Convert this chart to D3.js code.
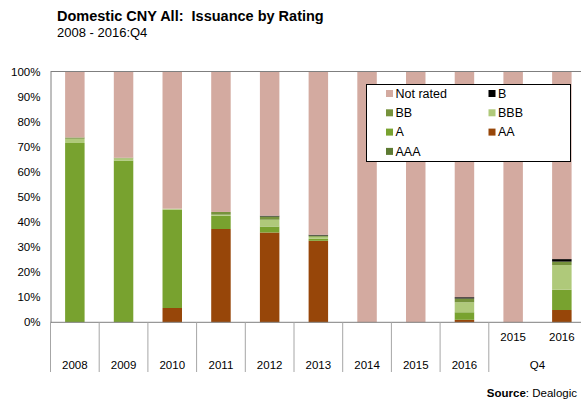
<!DOCTYPE html>
<html>
<head>
<meta charset="utf-8">
<script src="https://cdn.jsdelivr.net/npm/d3@7"></script>
<style>
  html, body { margin: 0; padding: 0; background: #fff; }
  svg { display: block; font-family: "Liberation Sans", Arial, sans-serif; }
</style>
</head>
<body>
<svg id="chart" width="581" height="403"></svg>
<script>
// Period categories: nine calendar years, then Q4 of 2015 and 2016
const categories = ["2008", "2009", "2010", "2011", "2012", "2013", "2014", "2015", "2016", "Q4 2015", "Q4 2016"];
const yearLabels = ["2008", "2009", "2010", "2011", "2012", "2013", "2014", "2015", "2016"];
const q4Labels = ["2015", "2016"];
const q4GroupLabel = "Q4";

// Share of issuance by rating (%), stacked from the bottom in this order
const ratingAAA = [0, 0, 0, 0, 0, 0, 0, 0, 0, 0, 0];
const ratingAA  = [0, 0, 5.7, 37.2, 35.8, 32.5, 0, 0, 1.0, 0, 4.9];
const ratingA   = [71.5, 64.5, 39.2, 5.3, 2.4, 0.8, 0, 0, 3.0, 0, 8.1];
const ratingBBB = [1.7, 0.9, 0.4, 0.4, 2.7, 0.8, 0, 0, 4.0, 0, 9.8];
const ratingBB  = [0.5, 0.2, 0, 1.1, 1.3, 0.5, 0, 0, 1.5, 0, 1.4];
const ratingB   = [0, 0, 0, 0, 0.3, 0.3, 0, 0, 0.5, 0, 1.0];
const notRated  = [26.3, 34.4, 54.7, 56.0, 57.5, 65.1, 100, 100, 90.0, 100, 74.8];

const yTicks = [0, 10, 20, 30, 40, 50, 60, 70, 80, 90, 100];

const series = [
  { name: "AAA", values: ratingAAA, color: "#5d7a32" },
  { name: "AA", values: ratingAA, color: "#974609" },
  { name: "A", values: ratingA, color: "#78a22f" },
  { name: "BBB", values: ratingBBB, color: "#afc97a" },
  { name: "BB", values: ratingBB, color: "#76923c" },
  { name: "B", values: ratingB, color: "#000000" },
  { name: "Not rated", values: notRated, color: "#d3aaa0" }
];

// Legend reads in two columns, top of stack first
const legendOrder = ["Not rated", "B", "BB", "BBB", "A", "AA", "AAA"];

const svg = d3.select("#chart");

const plotLeft = 50.5, plotRight = 586.2, plotTop = 71.5, plotBottom = 322.3;

const x = d3.scaleBand()
  .domain(categories)
  .range([plotLeft, plotRight])
  .paddingInner(0.6)
  .paddingOuter(0.3);

const y = d3.scaleLinear().domain([0, 100]).range([plotBottom, plotTop]);

// Title block
svg.append("text").attr("x", 57).attr("y", 21)
  .attr("font-size", 14.5).attr("font-weight", "bold").attr("fill", "#000")
  .attr("xml:space", "preserve")
  .text("Domestic CNY All:  Issuance by Rating");
svg.append("text").attr("x", 57).attr("y", 36.5)
  .attr("font-size", 13).attr("fill", "#000")
  .text("2008 - 2016:Q4");

// Stacked bars
const rows = categories.map((c, i) => {
  const r = { category: c };
  series.forEach(s => { r[s.name] = s.values[i]; });
  return r;
});
const stack = d3.stack().keys(series.map(s => s.name));
const layers = stack(rows);

svg.append("g").selectAll("g")
  .data(layers)
  .join("g")
  .attr("fill", d => series.find(s => s.name === d.key).color)
  .selectAll("rect")
  .data(d => d)
  .join("rect")
  .attr("x", d => x(d.data.category))
  .attr("width", x.bandwidth())
  .attr("y", d => y(d[1]))
  .attr("height", d => Math.max(0, y(d[0]) - y(d[1])));

// Y axis labels and frame lines
const yAxis = d3.axisLeft(y)
  .tickValues(yTicks)
  .tickFormat(d => d + "%")
  .tickSize(0)
  .tickPadding(10);
const yg = svg.append("g").attr("transform", `translate(${plotLeft},0)`).call(yAxis);
yg.select(".domain").attr("stroke", "#7f7f7f");
yg.selectAll("text").attr("font-size", 11.5).attr("fill", "#000")
  .attr("font-family", "Liberation Sans, Arial, sans-serif");

svg.append("line")
  .attr("x1", plotLeft).attr("x2", 581)
  .attr("y1", plotTop).attr("y2", plotTop)
  .attr("stroke", "#7f7f7f");
svg.append("line")
  .attr("x1", plotLeft).attr("x2", 581)
  .attr("y1", plotBottom).attr("y2", plotBottom)
  .attr("stroke", "#7f7f7f");

// Category separators under the axis
const step = x.step();
const sepX = d3.range(0, 10).map(i => plotLeft + i * step);
svg.append("g").selectAll("line")
  .data(sepX)
  .join("line")
  .attr("x1", d => d).attr("x2", d => d)
  .attr("y1", plotBottom).attr("y2", 372)
  .attr("stroke", "#a6a6a6");

// Category labels
const labelG = svg.append("g").attr("font-size", 11.5).attr("fill", "#000").attr("text-anchor", "middle");
labelG.selectAll("text.year")
  .data(yearLabels)
  .join("text")
  .attr("class", "year")
  .attr("x", (d, i) => x(categories[i]) + x.bandwidth() / 2)
  .attr("y", 369)
  .text(d => d);
labelG.selectAll("text.q4")
  .data(q4Labels)
  .join("text")
  .attr("class", "q4")
  .attr("x", (d, i) => x(categories[9 + i]) + x.bandwidth() / 2)
  .attr("y", 341)
  .text(d => d);
labelG.append("text")
  .attr("x", (x(categories[9]) + x(categories[10]) + x.bandwidth()) / 2)
  .attr("y", 369)
  .text(q4GroupLabel);

// Legend
const lg = svg.append("g");
lg.append("rect")
  .attr("x", 366.5).attr("y", 84.5).attr("width", 204).attr("height", 77)
  .attr("fill", "#fff").attr("stroke", "#000").attr("stroke-width", 1);
legendOrder.forEach((name, i) => {
  const s = series.find(t => t.name === name);
  const col = i % 2, row = Math.floor(i / 2);
  const kx = col === 0 ? 386 : 488.5;
  const cy = 93.5 + row * 19.3;
  lg.append("rect").attr("x", kx).attr("y", cy - 3.5).attr("width", 7).attr("height", 7).attr("fill", s.color);
  lg.append("text").attr("x", kx + 9.5).attr("y", cy + 4.3)
    .attr("font-size", 12.5).attr("fill", "#000").text(name);
});

// Source note
const src = svg.append("text").attr("x", 577).attr("y", 397)
  .attr("text-anchor", "end").attr("font-size", 11.5).attr("fill", "#000");
src.append("tspan").attr("font-weight", "bold").text("Source");
src.append("tspan").text(": Dealogic");
</script>
</body>
</html>
